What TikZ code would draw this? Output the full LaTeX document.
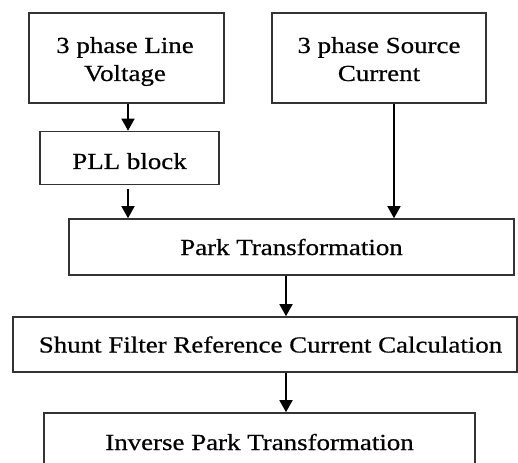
\documentclass[tikz,border=0pt]{standalone}
\usepackage{fontspec}
\setmainfont{Liberation Serif}[FakeStretch=1.17, FakeBold=0.6]
\usetikzlibrary{arrows.meta}
\begin{document}
\begin{tikzpicture}[x=1pt,y=-1pt,
  blk/.style={draw=black!80, line width=1.6pt, inner sep=0pt},
  lbl/.style={inner sep=0pt, anchor=base, align=center,
    font=\fontsize{23}{28}\selectfont},
  arr/.style={draw=black, line width=1.5pt, -{Triangle[width=13pt,length=12pt]}}]
  \useasboundingbox[fill=white] (0,0) rectangle (518,462);
  \clip (0,0) rectangle (518,462);

  % block outlines
  \node[blk, minimum width=195pt, minimum height=90pt] (vline) at (126.5,58) {};
  \node[blk, minimum width=214pt, minimum height=90pt] (isrc) at (379,58) {};
  \node[blk, minimum width=179pt, minimum height=53pt] (pll) at (129.5,158) {};
  \node[blk, minimum width=445pt, minimum height=56pt] (park) at (291.5,247) {};
  \node[blk, minimum width=504pt, minimum height=55pt] (shunt) at (265,344.5) {};
  \node[blk, minimum width=431pt, minimum height=62pt] (inv) at (259.5,444) {};

  % block labels, placed on the baseline of their last line
  \node[lbl] (vlinet) at (125,81) {3 phase Line\\Voltage};
  \node[lbl] (isrct) at (379,81) {3 phase Source\\Current};
  \node[lbl] (pllt) at (129.5,169) {PLL block};
  \node[lbl] (parkt) at (291.5,255) {Park Transformation};
  \node[lbl] (shuntt) at (270.5,352.5) {Shunt Filter Reference Current Calculation};
  \node[lbl] (invt) at (259.5,450) {Inverse Park Transformation};

  % connector columns
  \coordinate (cL) at (128,0);
  \coordinate (cR) at (394,0);
  \coordinate (cM) at (286,0);

  \draw[arr] (vline.south -| cL) -- (pll.north -| cL);
  \draw[arr] ([yshift=-4pt]pll.south -| cL) -- (park.north -| cL);
  \draw[arr] (isrc.south -| cR) -- (park.north -| cR);
  \draw[arr] (park.south -| cM) -- (shunt.north -| cM);
  \draw[arr] (shunt.south -| cM) -- (inv.north -| cM);
\end{tikzpicture}
\end{document}
